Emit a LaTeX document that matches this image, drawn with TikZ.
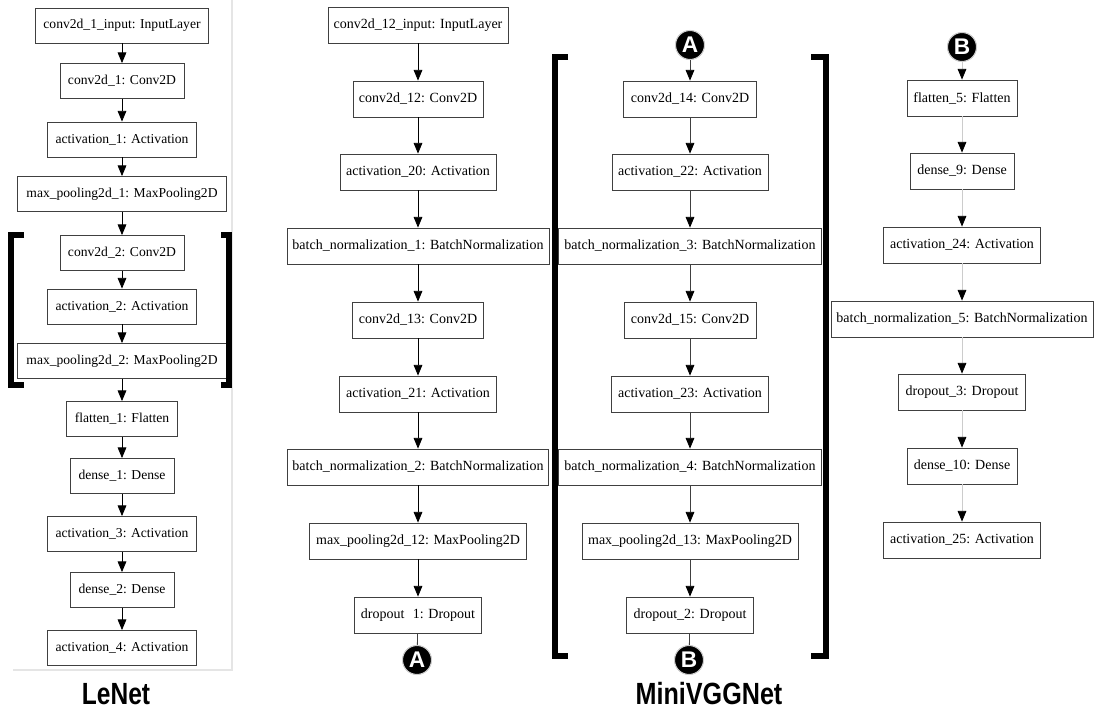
\documentclass[tikz,border=0pt]{standalone}
\usepackage{fontspec}
\setmainfont{Liberation Serif}
\newfontfamily\boxfont{Liberation Serif}
\newfontfamily\titlefont{Liberation Sans}
\usetikzlibrary{arrows.meta}
\begin{document}
\begin{tikzpicture}[x=0.75pt,y=-0.75pt,
  lay/.style={draw=black!75, line width=0.6pt, fill=white, minimum width=#1*0.75pt, minimum height=27pt, inner sep=0pt, font=\boxfont\fontsize{10.5}{12}\selectfont},
  small/.style={minimum height=26.25pt, font=\boxfont\fontsize{10.2}{12}\selectfont},
  arr/.style={-{Triangle[length=8pt,width=6.5pt]}, line width=0.6pt, black},
  darr/.style={-{Triangle[length=8pt,width=6.5pt,color=black]}, line width=0.6pt, black!75},
  garr/.style={-{Triangle[length=8pt,width=6.5pt,color=black]}, line width=0.6pt, black!20},
  link/.style={line width=0.6pt, black!75},
  circ/.style={circle, fill=black, draw=black!20, line width=0.8pt, minimum size=21.75pt, inner sep=0pt, text=white, font=\titlefont\bfseries\fontsize{17}{17}\selectfont},
  brk/.style={line width=4.5pt, black},
  frame/.style={line width=0.8pt, black!10},
  title/.style={font=\titlefont\bfseries\fontsize{23}{23}\selectfont, anchor=base, inner sep=0pt}]
\useasboundingbox (0,0) rectangle (1094,710);

% LeNet frame
\draw[frame] (13,670) -- (232,670) -- (232,0);

% LeNet column
\node[lay=173, small] (l0) at (122,25.5) {conv2d\_1\_input: InputLayer};
\node[lay=124, small] (l1) at (122,81) {conv2d\_1: Conv2D};
\node[lay=149, small] (l2) at (122,139.5) {activation\_1: Activation};
\node[lay=209, small] (l3) at (122,194) {max\_pooling2d\_1: MaxPooling2D};
\node[lay=124, small] (l4) at (122,253) {conv2d\_2: Conv2D};
\node[lay=149, small] (l5) at (122,306.5) {activation\_2: Activation};
\node[lay=210, small] (l6) at (122,361) {max\_pooling2d\_2: MaxPooling2D};
\node[lay=111, small] (l7) at (122,419) {flatten\_1: Flatten};
\node[lay=104, small] (l8) at (122,476) {dense\_1: Dense};
\node[lay=149, small] (l9) at (122,534) {activation\_3: Activation};
\node[lay=104, small] (l10) at (122,590) {dense\_2: Dense};
\node[lay=149, small] (l11) at (122,648) {activation\_4: Activation};
\foreach \a/\b in {l0/l1,l1/l2,l2/l3,l3/l4,l4/l5,l5/l6,l6/l7,l7/l8,l8/l9,l9/l10,l10/l11}
  \draw[arr] (\a) -- (\b);

% LeNet brackets
\draw[brk] (24,235) -- (11,235) -- (11,385) -- (24,385);
\draw[brk] (221,235) -- (229,235) -- (229,385) -- (221,385);

% MiniVGGNet column 1
\node[lay=180] (m0) at (418,25) {conv2d\_12\_input: InputLayer};
\node[lay=130] (m1) at (418,99) {conv2d\_12: Conv2D};
\node[lay=156] (m2) at (418,172) {activation\_20: Activation};
\node[lay=262] (m3) at (418,246) {batch\_normalization\_1: BatchNormalization};
\node[lay=131] (m4) at (418,320) {conv2d\_13: Conv2D};
\node[lay=157] (m5) at (418,394) {activation\_21: Activation};
\node[lay=261] (m6) at (418,467) {batch\_normalization\_2: BatchNormalization};
\node[lay=217] (m7) at (418,541) {max\_pooling2d\_12: MaxPooling2D};
\node[lay=127] (m8) at (418,615) {dropout\hspace{0.6em}1: Dropout};
\node[circ] (ca1) at (417,660) {A};
\foreach \a/\b in {m0/m1,m1/m2,m2/m3,m3/m4,m4/m5,m5/m6,m6/m7,m7/m8}
  \draw[arr] (\a) -- (\b);
\draw[link] (m8) -- (ca1);

% MiniVGGNet column 2
\node[circ] (ca2) at (690,45) {A};
\node[lay=133] (n1) at (690,99) {conv2d\_14: Conv2D};
\node[lay=156] (n2) at (690,172) {activation\_22: Activation};
\node[lay=263] (n3) at (690,246) {batch\_normalization\_3: BatchNormalization};
\node[lay=132] (n4) at (690,320) {conv2d\_15: Conv2D};
\node[lay=157] (n5) at (690,394) {activation\_23: Activation};
\node[lay=263] (n6) at (690,467) {batch\_normalization\_4: BatchNormalization};
\node[lay=216] (n7) at (690,541) {max\_pooling2d\_13: MaxPooling2D};
\node[lay=127] (n8) at (690,615) {dropout\_2: Dropout};
\node[circ] (cb1) at (689,660) {B};
\foreach \a/\b in {ca2/n1,n1/n2,n2/n3,n3/n4,n4/n5,n5/n6,n6/n7,n7/n8}
  \draw[darr] (\a) -- (\b);
\draw[link] (n8) -- (cb1);

% MiniVGGNet brackets
\draw[brk] (568,57) -- (555,57) -- (555,656) -- (568,656);
\draw[brk] (811,57) -- (825.5,57) -- (825.5,656) -- (811,656);

% MiniVGGNet column 3
\node[circ] (cb2) at (962,47) {B};
\node[lay=110] (k1) at (962,98) {flatten\_5: Flatten};
\node[lay=104] (k2) at (962,171) {dense\_9: Dense};
\node[lay=157] (k3) at (962,245) {activation\_24: Activation};
\node[lay=262] (k4) at (962,319) {batch\_normalization\_5: BatchNormalization};
\node[lay=127] (k5) at (962,392) {dropout\_3: Dropout};
\node[lay=110] (k6) at (962,466) {dense\_10: Dense};
\node[lay=157] (k7) at (962,540) {activation\_25: Activation};
\foreach \a/\b in {cb2/k1,k1/k2,k2/k3,k3/k4,k4/k5,k5/k6,k6/k7}
  \draw[garr] (\a) -- (\b);

% titles
\node[title] (t1) at (116,704) {\scalebox{0.8}[1]{LeNet}};
\node[title] (t2) at (709,704) {\scalebox{0.82}[1]{MiniVGGNet}};
\end{tikzpicture}
\end{document}
